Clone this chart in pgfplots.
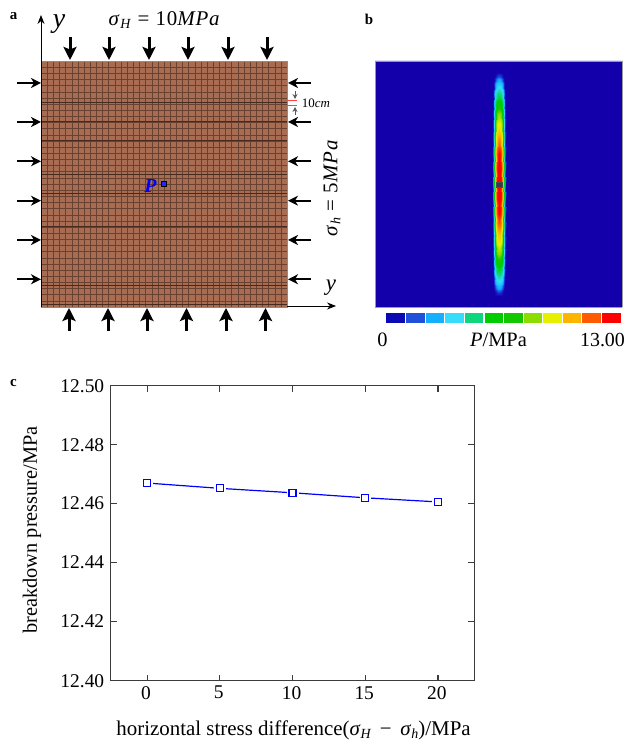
\documentclass[border=0pt]{standalone}
\usepackage{fontspec}
\setmainfont{Liberation Serif}
\usepackage{pgfplots}
\usepackage{pgfplotstable}
\pgfplotsset{compat=1.18}
\usetikzlibrary{arrows.meta}
\definecolor{meshfill}{RGB}{168,108,82}
\definecolor{meshline}{RGB}{105,65,48}
\definecolor{meshdark}{RGB}{70,42,30}
\definecolor{bgblue}{RGB}{20,0,170}
\definecolor{axgray}{RGB}{60,60,60}
\newcommand{\sg}[1]{\textit{σ}\raisebox{-.3ex}{\fontsize{14}{14}\selectfont\textit{#1}}}
\newcommand{\arrT}[4]{\addplot[black,line width=3bp,-{Stealth[length=13bp,width=13bp,inset=2.5bp]},forget plot] coordinates {(#1,#2)(#3,#4)};}
\newcommand{\arrS}[4]{\addplot[black,line width=1.8bp,-{Stealth[length=10bp,width=10bp,inset=3bp]},forget plot] coordinates {(#1,#2)(#3,#4)};}
\pgfplotstableread{
dx dy v
0 0 13
1 0 13
2 0 12.6
3 0 11
4 0 8.5
5 0 5.5
6 0 2
7 0 0
0 15 13
1 15 12.9
2 15 12.4
3 15 10.9
4 15 8.4
5 15 5.4
6 15 1.9
7 15 0
0 30 12.6
1 30 12.4
2 30 11.8
3 30 10.4
4 30 8
5 30 5
6 30 1.6
7 30 0
0 45 10.8
1 45 10.7
2 45 10.3
3 45 9.2
4 45 7.2
5 45 4.4
6 45 1.3
7 45 0
0 60 9.2
1 60 9.1
2 60 8.8
3 60 7.9
4 60 6.3
5 60 3.8
6 60 1
7 60 0
0 70 8
1 70 7.9
2 70 7.6
3 70 6.9
4 70 5.6
5 70 3.3
6 70 0.7
7 70 0
0 80 6.2
1 80 6.1
2 80 5.9
3 80 5.5
4 80 4.6
5 80 2.7
6 80 0.4
7 80 0
0 90 4.7
1 90 4.6
2 90 4.4
3 90 4
4 90 3.3
5 90 1.9
6 90 0.2
7 90 0
0 100 3
1 100 2.95
2 100 2.8
3 100 2.5
4 100 1.9
5 100 0.8
6 100 0
7 100 0
0 105 2.2
1 105 2.1
2 105 1.9
3 105 1.5
4 105 0.9
5 105 0.2
6 105 0
7 105 0
0 108 1.2
1 108 1.1
2 108 0.9
3 108 0.5
4 108 0.2
5 108 0
6 108 0
7 108 0
0 112 0
1 112 0
2 112 0
3 112 0
4 112 0
5 112 0
6 112 0
7 112 0
}\fieldtable
\begin{document}
\begin{tikzpicture}[x=1bp,y=1bp]
\useasboundingbox (0,0) rectangle (625,742);
% ---------- panel a
\begin{axis}[at={(41bp,435bp)},anchor=south west,scale only axis,width=246bp,height=246bp,
  xmin=41,xmax=287,ymin=435,ymax=681,clip=false,
  axis background/.style={fill=meshfill},
  xtick={41,47.15,...,287},ytick={435,441.15,...,681},
  xticklabels={},yticklabels={},major tick length=0pt,
  grid=major,grid style={meshline,line width=0.4bp},
  extra y ticks={639.3,620.7,601.7,567.7,548.7,515.3,457,437.6},extra y tick labels={},
  extra tick style={grid style={meshdark,line width=0.45bp}},
  axis line style={draw=black!45,line width=0.5bp}]
\arrT{70}{705}{70}{682}\arrT{109}{705}{109}{682}\arrT{149}{705}{149}{682}\arrT{188}{705}{188}{682}\arrT{228}{705}{228}{682}\arrT{267}{705}{267}{682}
\arrT{69}{411}{69}{434}\arrT{108}{411}{108}{434}\arrT{147}{411}{147}{434}\arrT{186.5}{411}{186.5}{434}\arrT{226}{411}{226}{434}\arrT{265.5}{411}{265.5}{434}
\arrS{17}{659}{41}{659}\arrS{17}{620}{41}{620}\arrS{17}{580.7}{41}{580.7}\arrS{17}{541.3}{41}{541.3}\arrS{17}{502}{41}{502}\arrS{17}{462.7}{41}{462.7}
\arrS{311}{659}{288}{659}\arrS{311}{620}{288}{620}\arrS{311}{580.7}{288}{580.7}\arrS{311}{541.3}{288}{541.3}\arrS{311}{502}{288}{502}\arrS{311}{462.7}{288}{462.7}
\addplot[black,line width=0.9bp,-{Stealth[length=9bp,width=7bp]},forget plot] coordinates {(41,435)(41,727)};
\addplot[black,line width=0.9bp,-{Stealth[length=9bp,width=7bp]},forget plot] coordinates {(287,436)(336,436)};
\addplot[red!75!white,line width=1bp,forget plot] coordinates {(287,641.4)(297,641.4)};
\addplot[red!75!white,line width=1bp,forget plot] coordinates {(287,636.8)(297,636.8)};
\addplot[black!65,line width=0.9bp,-{Stealth[length=5bp,width=5bp]},forget plot] coordinates {(295,651)(295,643)};
\addplot[black!65,line width=0.9bp,-{Stealth[length=5bp,width=5bp]},forget plot] coordinates {(295,627)(295,635)};
\addplot[only marks,mark=square*,mark size=2.3bp,mark options={fill=blue!85!white,draw=black,line width=0.6bp},forget plot] coordinates {(164,558)};
\end{axis}
\node[anchor=center,font=\fontsize{15}{15}\selectfont\bfseries] at (13.5,726) {a};
\node[anchor=center,font=\fontsize{28}{28}\selectfont\itshape] at (59,718) {y};
\node[anchor=center,font=\fontsize{21}{21}\selectfont\addfontfeature{LetterSpace=4}] at (164.5,722) {\sg{H} = 10\textit{MPa}};
\node[anchor=center,font=\fontsize{23}{23}\selectfont\itshape] at (331,454) {y};
\node[anchor=center,rotate=90,font=\fontsize{21}{21}\selectfont\addfontfeature{LetterSpace=4}] at (332,554) {\sg{h} = 5\textit{MPa}};
\node[anchor=center,font=\fontsize{13}{13}\selectfont] at (316,639) {10\textit{cm}};
\node[anchor=center,text=blue,font=\fontsize{20}{20}\selectfont\bfseries\itshape] at (150.5,556) {P};
% ---------- panel b
\begin{axis}[at={(375bp,434.5bp)},anchor=south west,scale only axis,width=247bp,height=246.5bp,
  xmin=375,xmax=622,ymin=434.5,ymax=681,view={0}{90},
  axis background/.style={fill=bgblue},hide axis=false,
  xtick=\empty,ytick=\empty,
  axis line style={draw=black!40,line width=0.8bp},
  colormap={fieldmap}{rgb255=(20,0,170) rgb255=(20,60,220) rgb255=(20,170,255) rgb255=(50,220,250) rgb255=(15,214,125) rgb255=(0,205,0) rgb255=(20,200,0) rgb255=(140,220,0) rgb255=(230,240,0) rgb255=(255,180,0) rgb255=(255,90,0) rgb255=(255,0,0)},
  point meta min=0,point meta max=12.6]
\addplot3[surf,shader=interp,mesh/rows=12,mesh/cols=8,point meta=\thisrow{v}] table[x expr=499+\thisrow{dx},y expr=557.5+\thisrow{dy},z=v] {\fieldtable};
\addplot3[surf,shader=interp,mesh/rows=12,mesh/cols=8,point meta=\thisrow{v}] table[x expr=499-\thisrow{dx},y expr=557.5+\thisrow{dy},z=v] {\fieldtable};
\addplot3[surf,shader=interp,mesh/rows=12,mesh/cols=8,point meta=\thisrow{v}] table[x expr=499+\thisrow{dx},y expr=557.5-\thisrow{dy},z=v] {\fieldtable};
\addplot3[surf,shader=interp,mesh/rows=12,mesh/cols=8,point meta=\thisrow{v}] table[x expr=499-\thisrow{dx},y expr=557.5-\thisrow{dy},z=v] {\fieldtable};
\addplot3[only marks,mark=square*,mark size=2.7bp,mark options={fill={rgb,255:red,50;green,60;blue,80},draw=black!70}] coordinates {(499,557.5,20)};
\end{axis}
\begin{axis}[at={(386bp,419.3bp)},anchor=south west,scale only axis,width=235bp,height=9.4bp,
  xmin=0,xmax=12,ymin=0,ymax=1,hide axis,clip=false]
\addplot[draw=none,fill={rgb,255:red,10;green,10;blue,180},forget plot] coordinates {(0.02,0)(0.97,0)(0.97,1)(0.02,1)} --cycle;
\addplot[draw=none,fill={rgb,255:red,30;green,80;blue,220},forget plot] coordinates {(1.03,0)(1.97,0)(1.97,1)(1.03,1)} --cycle;
\addplot[draw=none,fill={rgb,255:red,20;green,175;blue,255},forget plot] coordinates {(2.03,0)(2.97,0)(2.97,1)(2.03,1)} --cycle;
\addplot[draw=none,fill={rgb,255:red,55;green,220;blue,250},forget plot] coordinates {(3.03,0)(3.97,0)(3.97,1)(3.03,1)} --cycle;
\addplot[draw=none,fill={rgb,255:red,15;green,214;blue,125},forget plot] coordinates {(4.03,0)(4.97,0)(4.97,1)(4.03,1)} --cycle;
\addplot[draw=none,fill={rgb,255:red,0;green,205;blue,0},forget plot] coordinates {(5.03,0)(5.97,0)(5.97,1)(5.03,1)} --cycle;
\addplot[draw=none,fill={rgb,255:red,20;green,200;blue,0},forget plot] coordinates {(6.03,0)(6.97,0)(6.97,1)(6.03,1)} --cycle;
\addplot[draw=none,fill={rgb,255:red,140;green,220;blue,0},forget plot] coordinates {(7.03,0)(7.97,0)(7.97,1)(7.03,1)} --cycle;
\addplot[draw=none,fill={rgb,255:red,230;green,240;blue,0},forget plot] coordinates {(8.03,0)(8.97,0)(8.97,1)(8.03,1)} --cycle;
\addplot[draw=none,fill={rgb,255:red,255;green,180;blue,0},forget plot] coordinates {(9.03,0)(9.97,0)(9.97,1)(9.03,1)} --cycle;
\addplot[draw=none,fill={rgb,255:red,255;green,90;blue,0},forget plot] coordinates {(10.03,0)(10.97,0)(10.97,1)(10.03,1)} --cycle;
\addplot[draw=none,fill={rgb,255:red,255;green,0;blue,0},forget plot] coordinates {(11.03,0)(12,0)(12,1)(11.03,1)} --cycle;
\end{axis}
\node[anchor=center,font=\fontsize{15}{15}\selectfont\bfseries] at (369,723) {b};
\node[anchor=center,font=\fontsize{20.5}{20.5}\selectfont] at (382.5,402) {0};
\node[anchor=center,font=\fontsize{20.5}{20.5}\selectfont] at (498.5,402) {\textit{P}/MPa};
\node[anchor=center,font=\fontsize{20}{20}\selectfont] at (602.5,402) {13.00};
% ---------- panel c
\begin{axis}[at={(110.7bp,61.3bp)},anchor=south west,scale only axis,width=363.6bp,height=295bp,
  xmin=-2.5,xmax=22.5,ymin=12.40,ymax=12.50,
  xtick={0,5,10,15,20},ytick={12.40,12.42,12.44,12.46,12.48,12.50},
  tick pos=both,tick align=inside,tickwidth=6bp,
  every tick/.style={axgray,line width=1.1bp},
  axis line style={axgray,line width=1bp},
  ticklabel style={font=\fontsize{19.5}{19.5}\selectfont},
  yticklabel style={xshift=-3bp,/pgf/number format/fixed,/pgf/number format/fixed zerofill,/pgf/number format/precision=2,/pgf/number format/assume math mode=true},
  xticklabel style={xshift=-1bp,yshift=-2bp,/pgf/number format/assume math mode=true},
  scaled y ticks=false,
  xlabel={horizontal stress difference(\sg{H} \,−\, \sg{h})/MPa},
  ylabel={breakdown pressure/MPa},
  xlabel style={font=\fontsize{21}{21}\selectfont,at={(axis description cs:0.503,-0.17)},anchor=center},
  ylabel style={font=\fontsize{20.4}{20.4}\selectfont,at={(axis description cs:-0.2165,0.511)},anchor=center},
  clip=false]
\addplot[axgray,line width=1.1bp,no marks,unbounded coords=jump,forget plot] coordinates {
(0,12.40)(0,12.402)(0,nan)(5,12.40)(5,12.402)(5,nan)(10,12.40)(10,12.402)(10,nan)(15,12.40)(15,12.402)(15,nan)(20,12.40)(20,12.402)(20,nan)
(0,12.50)(0,12.498)(0,nan)(5,12.50)(5,12.498)(5,nan)(10,12.50)(10,12.498)(10,nan)(15,12.50)(15,12.498)(15,nan)(20,12.50)(20,12.498)(20,nan)
(-2.5,12.42)(-2.09,12.42)(0,nan)(-2.5,12.44)(-2.09,12.44)(0,nan)(-2.5,12.46)(-2.09,12.46)(0,nan)(-2.5,12.48)(-2.09,12.48)(0,nan)
(22.5,12.42)(22.09,12.42)(0,nan)(22.5,12.44)(22.09,12.44)(0,nan)(22.5,12.46)(22.09,12.46)(0,nan)(22.5,12.48)(22.09,12.48)};
\addplot[blue,line width=1.2bp,no marks,forget plot] coordinates {(0,12.467)(5,12.4652)(10,12.4637)(15,12.462)(20,12.4606)};
\addplot[only marks,mark=square*,mark size=5.4bp,mark options={fill=white,draw=white},forget plot] coordinates {(0,12.467)(5,12.4652)(10,12.4637)(15,12.462)(20,12.4606)};
\addplot[only marks,mark=square*,mark size=3.5bp,mark options={fill=white,draw=blue,line width=1.2bp}] coordinates {(0,12.467)(5,12.4652)(10,12.4637)(15,12.462)(20,12.4606)};
\end{axis}
\node[anchor=center,font=\fontsize{15}{15}\selectfont\bfseries] at (13.5,359) {c};
\end{tikzpicture}
\end{document}
